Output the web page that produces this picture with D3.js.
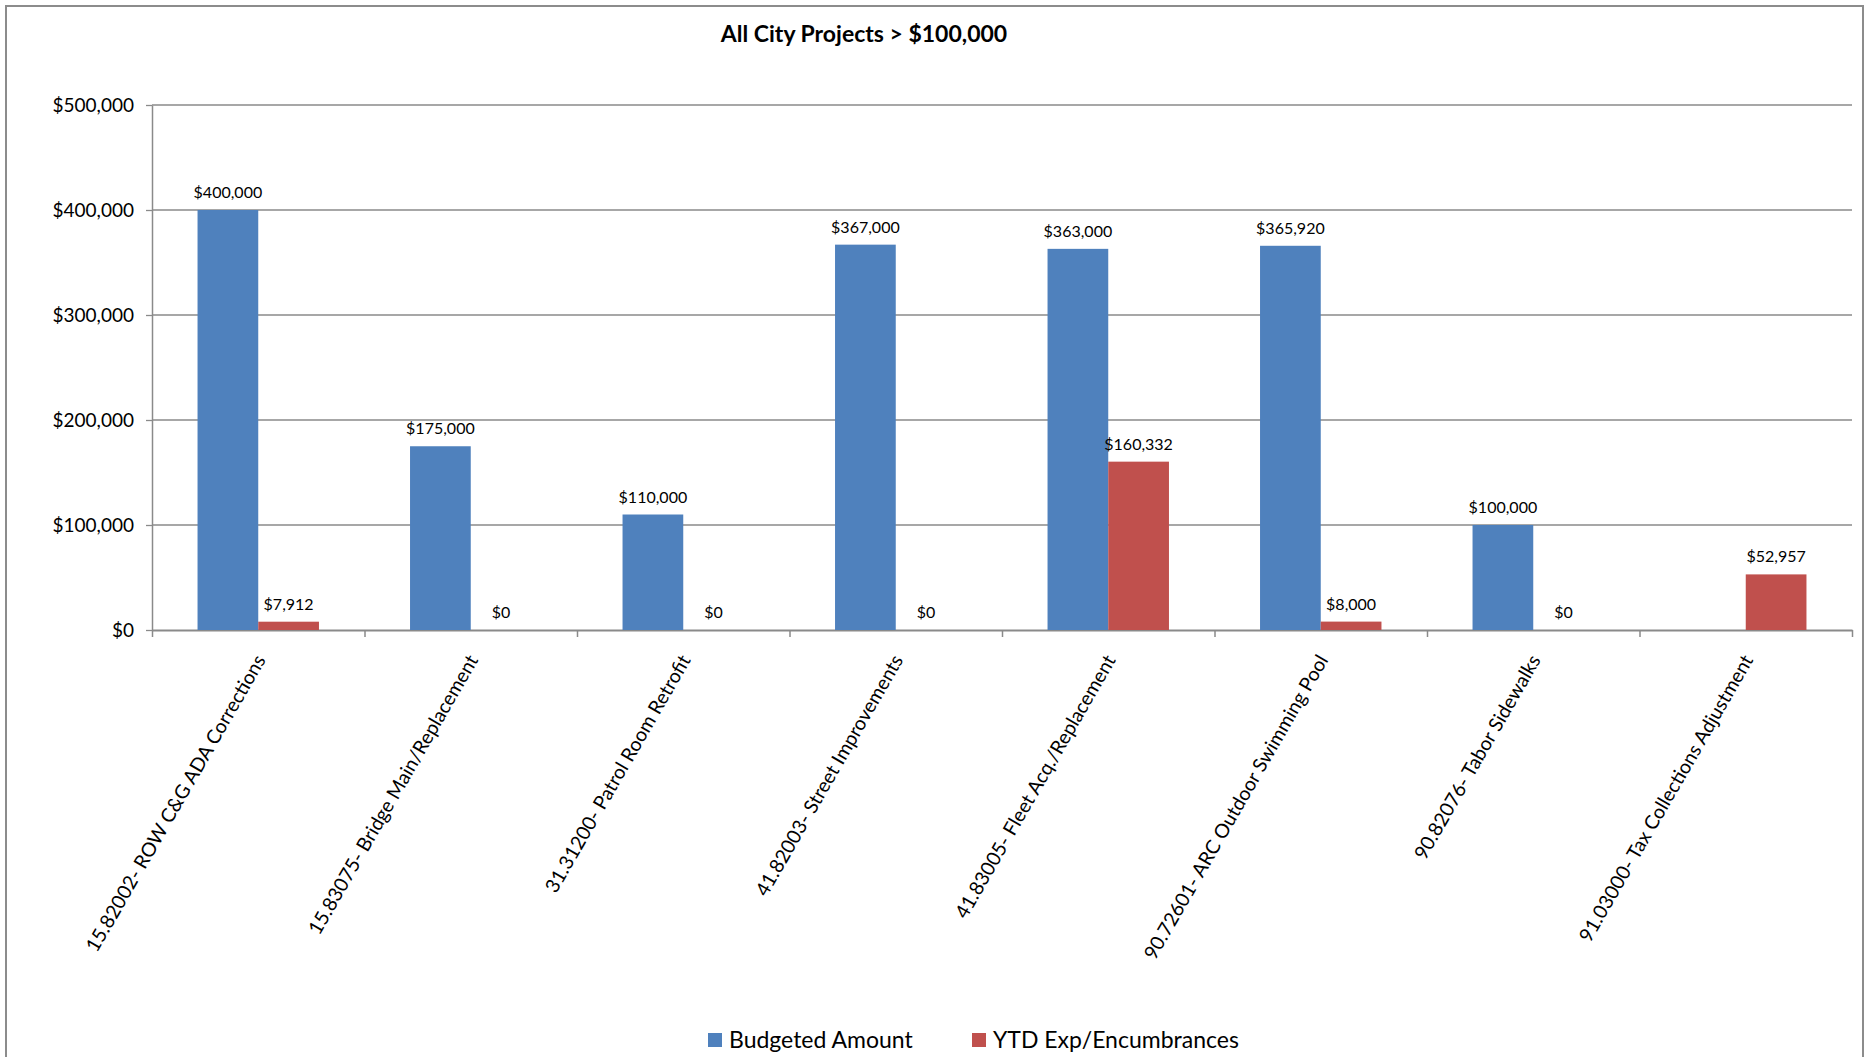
<!DOCTYPE html>
<html>
<head>
<meta charset="utf-8">
<script src="https://cdn.jsdelivr.net/npm/d3@7/dist/d3.min.js"></script>
<style>
  body { margin: 0; background: #ffffff; }
  svg { display: block; font-family: Lato, "Noto Sans", sans-serif; }
</style>
</head>
<body>
<svg id="chart" width="1867" height="1057"></svg>
<script>
// Project budgets vs. year-to-date spending
const categories = [
  "15.82002- ROW C&G ADA Corrections",
  "15.83075- Bridge Main/Replacement",
  "31.31200- Patrol Room Retrofit",
  "41.82003- Street Improvements",
  "41.83005- Fleet Acq./Replacement",
  "90.72601- ARC Outdoor Swimming Pool",
  "90.82076- Tabor Sidewalks",
  "91.03000- Tax Collections Adjustment"
];
const budgeted = [400000, 175000, 110000, 367000, 363000, 365920, 100000, null];
const ytdExp   = [7912, 0, 0, 0, 160332, 8000, 0, 52957];
const seriesNames  = ["Budgeted Amount", "YTD Exp/Encumbrances"];
const seriesColors = ["#4F81BD", "#C0504D"];
const yTicks = [0, 100000, 200000, 300000, 400000, 500000];
const titleText = "All City Projects > $100,000";

const svg = d3.select("#chart");
const W = 1867, H = 1057;
const plot = { left: 152, right: 1852, top: 105, bottom: 630 };
const gridColor = "#8a8a8a";

// outer chart frame
svg.append("rect")
  .attr("x", 6).attr("y", 6)
  .attr("width", W - 6 - 4).attr("height", H + 10)
  .attr("fill", "#fff")
  .attr("stroke", "#8c8c8c").attr("stroke-width", 2);

// title
svg.append("text")
  .attr("x", 864).attr("y", 42)
  .attr("text-anchor", "middle")
  .attr("font-weight", "bold")
  .attr("font-size", 23)
  .attr("fill", "#000")
  .text(titleText);

const y = d3.scaleLinear().domain([0, 500000]).range([plot.bottom, plot.top]);
const x0 = d3.scaleBand().domain(categories).range([plot.left, plot.right]).padding(0);
const x1 = d3.scaleBand().domain(seriesNames).range([0, x0.bandwidth()])
  .paddingInner(0).paddingOuter(0.75);
const xIdx = d3.scaleLinear().domain([0, categories.length]).range([plot.left, plot.right]);
const money = d => "$" + d3.format(",")(d);

// horizontal gridlines
svg.append("g")
  .selectAll("line")
  .data(yTicks.filter(d => d > 0))
  .join("line")
  .attr("x1", plot.left).attr("x2", plot.right)
  .attr("y1", d => y(d)).attr("y2", d => y(d))
  .attr("stroke", gridColor).attr("stroke-width", 1.3);

// value axis
const yAxis = svg.append("g")
  .attr("transform", `translate(${plot.left},0)`)
  .call(d3.axisLeft(y).tickValues(yTicks).tickFormat(money)
    .tickSize(6).tickSizeOuter(0).tickPadding(12));
yAxis.select(".domain").attr("stroke", gridColor).attr("stroke-width", 1.5);
yAxis.selectAll(".tick line").attr("stroke", gridColor).attr("stroke-width", 1.3);
yAxis.selectAll(".tick text")
  .attr("font-size", 19).attr("fill", "#000")
  .attr("font-family", "Lato, sans-serif");

// category axis: line with ticks at group boundaries
const xAxis = svg.append("g")
  .attr("transform", `translate(0,${plot.bottom})`)
  .call(d3.axisBottom(xIdx).ticks(categories.length).tickFormat("")
    .tickSize(7).tickSizeOuter(0));
xAxis.select(".domain").attr("stroke", gridColor).attr("stroke-width", 2);
xAxis.selectAll(".tick line").attr("stroke", gridColor).attr("stroke-width", 1.5);

// rotated category labels
svg.append("g")
  .selectAll("text")
  .data(categories)
  .join("text")
  .attr("transform", d => `translate(${x0(d) + x0.bandwidth() / 2 - 4},653) rotate(-60)`)
  .attr("text-anchor", "end")
  .attr("dy", "0.71em")
  .attr("font-size", 19.5)
  .attr("fill", "#000")
  .text(d => d);

// bars
const rows = categories.map((c, i) => ({ cat: c, values: [budgeted[i], ytdExp[i]] }));
const groups = svg.append("g")
  .selectAll("g")
  .data(rows)
  .join("g")
  .attr("transform", d => `translate(${x0(d.cat)},0)`);

const cells = groups.selectAll("g")
  .data(d => d.values.map((v, s) => ({ v, s })).filter(e => e.v !== null))
  .join("g");

cells.append("rect")
  .attr("x", d => x1(seriesNames[d.s]))
  .attr("width", x1.bandwidth())
  .attr("y", d => y(d.v))
  .attr("height", d => y(0) - y(d.v))
  .attr("fill", d => seriesColors[d.s]);

cells.append("text")
  .attr("x", d => x1(seriesNames[d.s]) + x1.bandwidth() / 2)
  .attr("y", d => y(d.v) - 12)
  .attr("text-anchor", "middle")
  .attr("font-size", 16)
  .attr("fill", "#000")
  .text(d => money(d.v));

// legend
const legendX = [708, 972];
const legend = svg.append("g")
  .selectAll("g")
  .data(seriesNames)
  .join("g")
  .attr("transform", (d, i) => `translate(${legendX[i]},1040)`);
legend.append("rect")
  .attr("x", 0).attr("y", -7)
  .attr("width", 14).attr("height", 14)
  .attr("fill", (d, i) => seriesColors[i]);
legend.append("text")
  .attr("x", 21).attr("dy", "0.36em")
  .attr("font-size", 23)
  .attr("fill", "#000")
  .text(d => d);
</script>
</body>
</html>
